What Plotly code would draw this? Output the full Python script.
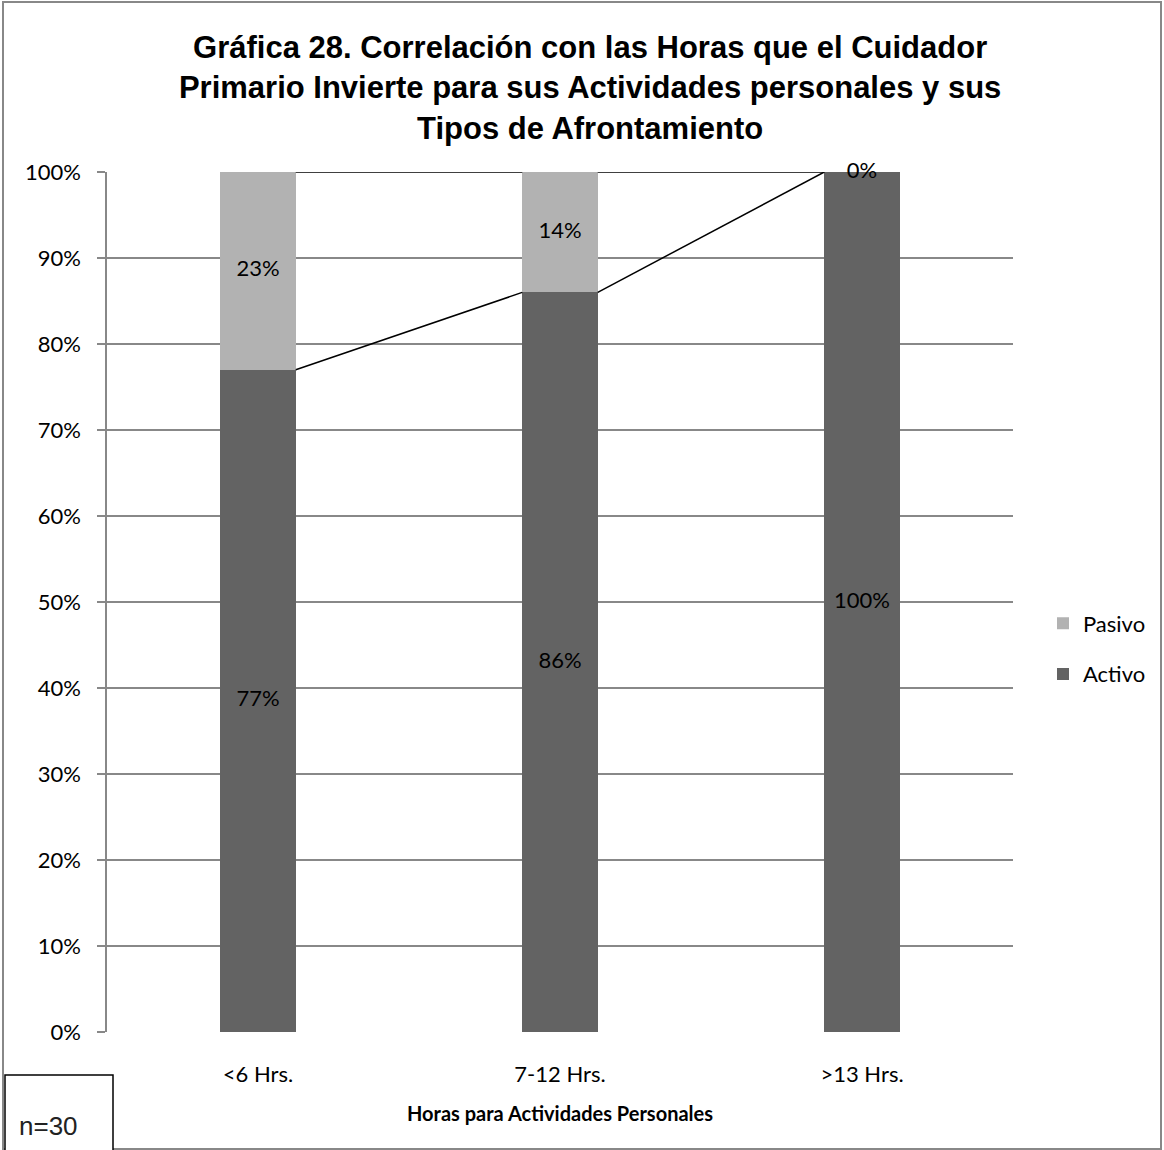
import plotly.graph_objects as go

categories = ["<6 Hrs.", "7-12 Hrs.", ">13 Hrs."]
activo = [77, 86, 100]
pasivo = [23, 14, 0]
y_ticks = [0, 10, 20, 30, 40, 50, 60, 70, 80, 90, 100]
y_tick_labels = [f"{v}%" for v in y_ticks]

BAR_W = 0.25
C_ACT = "#636363"
C_PAS = "#b2b2b2"
GRID = "#888888"
LBL_FONT = "Lato, Open Sans, sans-serif"
xs = list(range(len(categories)))

fig = go.Figure()
fig.add_trace(go.Bar(x=xs, y=activo, name="Activo", marker_color=C_ACT, width=BAR_W,
                     marker_line_width=0, legendgroup="a", legendrank=2))
fig.add_trace(go.Bar(x=xs, y=pasivo, name="Pasivo", marker_color=C_PAS, width=BAR_W,
                     marker_line_width=0, legendgroup="p", legendrank=1))

# series lines (connect segment tops between bars)
cum_a = activo
cum_p = [a + p for a, p in zip(activo, pasivo)]
for cum in (cum_a, cum_p):
    for i in range(len(xs) - 1):
        fig.add_trace(go.Scatter(x=[xs[i] + BAR_W / 2, xs[i + 1] - BAR_W / 2],
                                 y=[cum[i], cum[i + 1]], mode="lines",
                                 line=dict(color="black", width=1.5),
                                 showlegend=False, hoverinfo="skip"))

# data labels
lab_x, lab_y, lab_t = [], [], []
for i in xs:
    lab_x.append(i); lab_y.append(activo[i] / 2); lab_t.append(f"{activo[i]}%")
    lab_x.append(i); lab_y.append(activo[i] + pasivo[i] / 2); lab_t.append(f"{pasivo[i]}%")
fig.add_trace(go.Scatter(x=lab_x, y=lab_y, text=lab_t, mode="text", cliponaxis=False,
                         textfont=dict(family=LBL_FONT, size=22, color="black"),
                         showlegend=False, hoverinfo="skip"))

L, R, T, B = 107, 151, 172, 118
W, H = 1164, 1150
pw, ph = W - L - R, H - T - B

def px(xp):
    return (xp - L) / pw

def py(yp):
    return (H - B - yp) / ph

fig.update_layout(
    width=W, height=H,
    margin=dict(l=L, r=R, t=T, b=B),
    paper_bgcolor="white", plot_bgcolor="white",
    barmode="stack",
    title=dict(text="<b>Gráfica 28. Correlación con las Horas que el Cuidador<br>Primario Invierte para sus Actividades personales y sus<br>Tipos de Afrontamiento</b>",
               x=0.507, xanchor="center", y=1 - 58 / H, yanchor="middle",
               font=dict(family="Liberation Sans, Arial, sans-serif", size=31, color="black")),
    font=dict(family=LBL_FONT, size=22, color="black"),
    showlegend=True,
    legend=dict(x=px(1043), xanchor="left", y=py(649), yanchor="middle",
                traceorder="grouped", tracegroupgap=19,
                font=dict(family=LBL_FONT, size=22, color="black"),
                itemwidth=30),
    xaxis=dict(range=[-0.5, 2.5], tickmode="array", tickvals=xs, ticktext=categories,
               showgrid=False, zeroline=False, showline=False, ticks="",
               tickfont=dict(size=22), fixedrange=True, ticklabelstandoff=27,
               title=dict(text="<b>Horas para Actividades Personales</b>",
                          font=dict(family=LBL_FONT, size=20), standoff=20)),
    yaxis=dict(range=[0, 100], tickmode="array", tickvals=y_ticks, ticktext=y_tick_labels,
               showgrid=True, gridcolor=GRID, gridwidth=1.5, zeroline=False,
               showline=True, linecolor=GRID, linewidth=1.5,
               ticks="outside", ticklen=8, tickcolor=GRID, tickwidth=1.5,
               tickfont=dict(size=22), ticklabelstandoff=12),
    shapes=[
        dict(type="rect", xref="paper", yref="paper", x0=px(3), x1=px(1161), y0=py(1149), y1=py(2),
             line=dict(color="#888888", width=2), fillcolor="rgba(0,0,0,0)", layer="below"),
        dict(type="rect", xref="paper", yref="paper", x0=px(5), x1=px(113), y0=py(1155), y1=py(1075),
             line=dict(color="black", width=1.5), fillcolor="white", layer="above"),
    ],
    annotations=[
        dict(text="n=30", xref="paper", yref="paper", x=px(48), y=py(1126), showarrow=False,
             xanchor="center", yanchor="middle",
             font=dict(family="Liberation Sans, Arial, sans-serif", size=26, color="#222222")),
    ],
)

fig.write_html("out.html", config={"displayModeBar": False},
               post_script="document.body.style.margin='0';")
